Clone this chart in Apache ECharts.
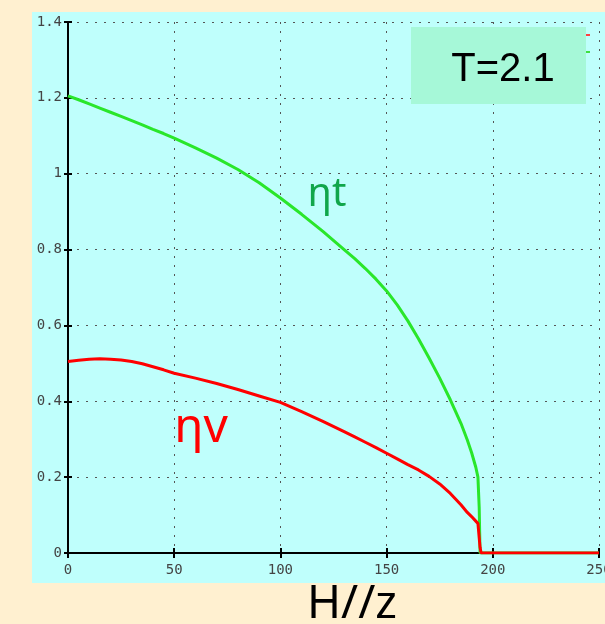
<!DOCTYPE html>
<html>
<head>
<meta charset="utf-8">
<script src="https://cdn.jsdelivr.net/npm/echarts@6/dist/echarts.min.js"></script>
<style>
  html, body { margin: 0; padding: 0; background: #FFF0D0; }
  #chart { width: 605px; height: 624px; }
</style>
</head>
<body>
<div id="chart"></div>
<script>
// field H//z
const hValues = [0, 5, 10, 15, 20, 25, 30, 35, 40, 45, 50, 60, 70, 80, 90, 100, 110, 120, 130, 135, 140, 145, 150, 155, 160, 165, 170, 175, 180, 185, 188, 190, 192, 193, 193.6, 194, 194.5, 200, 210, 220, 230, 240, 250];
// ηt
const etaT = [1.205, 1.195, 1.184, 1.173, 1.162, 1.151, 1.14, 1.129, 1.117, 1.106, 1.094, 1.068, 1.041, 1.011, 0.976, 0.936, 0.893, 0.848, 0.8, 0.776, 0.75, 0.722, 0.691, 0.654, 0.612, 0.565, 0.514, 0.461, 0.404, 0.342, 0.298, 0.265, 0.226, 0.2, 0.12, 0, 0, 0, 0, 0, 0, 0, 0];
// ηv
const etaV = [0.505, 0.508, 0.511, 0.512, 0.511, 0.509, 0.505, 0.499, 0.491, 0.483, 0.474, 0.461, 0.447, 0.431, 0.414, 0.397, 0.373, 0.347, 0.32, 0.306, 0.292, 0.278, 0.263, 0.248, 0.233, 0.219, 0.202, 0.182, 0.157, 0.127, 0.107, 0.096, 0.084, 0.078, 0.04, 0.015, 0, 0, 0, 0, 0, 0, 0];

const xTicks = [0, 50, 100, 150, 200, 250];

const toPairs = (ys) => hValues.map((h, i) => [h, ys[i]]);

const chart = echarts.init(document.getElementById('chart'));

const tickFont = { fontFamily: 'DejaVu Sans Mono', fontSize: 14, color: '#444' };

chart.setOption({
	backgroundColor: '#FFF0D0',
	animation: false,
	grid: { left: 68, top: 22, right: 6, bottom: 71, show: false, outerBoundsMode: 'none', containLabel: false },
	xAxis: [
		{
			type: 'value', min: 0, max: 250, interval: 50,
			axisLine: { show: true, onZero: false, lineStyle: { color: '#000', width: 2 } },
			axisTick: { show: true, inside: true, length: 5, lineStyle: { color: '#000', width: 2 } },
			axisLabel: Object.assign({ margin: 10, formatter: (v) => (xTicks.indexOf(v) >= 0 ? String(v) : '') }, tickFont),
			splitLine: { show: true, lineStyle: { color: '#555', type: [2, 7], width: 1 } },
		},
		{
			type: 'value', min: 0, max: 250, interval: 50, position: 'top',
			axisLine: { show: true, lineStyle: { color: '#000', width: 2 } },
			axisTick: { show: true, inside: true, length: 5, lineStyle: { color: '#000', width: 2 } },
			axisLabel: { show: false },
			splitLine: { show: false },
		},
	],
	yAxis: [
		{
			type: 'value', min: 0, max: 1.4, interval: 0.2,
			axisLine: { show: true, onZero: false, lineStyle: { color: '#000', width: 2 } },
			axisTick: { show: true, inside: true, length: 4, lineStyle: { color: '#000', width: 2 } },
			axisLabel: Object.assign({ margin: 6 }, tickFont),
			splitLine: { show: true, lineStyle: { color: '#555', type: [2, 7], width: 1 } },
		},
		{
			type: 'value', min: 0, max: 1.4, interval: 0.2, position: 'right',
			axisLine: { show: true, lineStyle: { color: '#000', width: 2 } },
			axisTick: { show: true, inside: true, length: 4, lineStyle: { color: '#000', width: 2 } },
			axisLabel: { show: false },
			splitLine: { show: false },
		},
	],
	graphic: [
		// cyan panel
		{ type: 'rect', z: -10, shape: { x: 32, y: 12, width: 573, height: 571 }, style: { fill: '#BFFFFC' } },
		// T box
		{ type: 'rect', z: 10, shape: { x: 411, y: 27, width: 175, height: 77 }, style: { fill: '#A6F8D8' } },
		{ type: 'text', z: 11, x: 503, y: 70, style: { text: 'T=2.1', font: '40px "Liberation Sans"', fill: '#000', textAlign: 'center', textVerticalAlign: 'middle' } },
		// leftover legend marks
		{ type: 'line', z: 11, shape: { x1: 586, y1: 35, x2: 590, y2: 35 }, style: { stroke: '#FF4040', lineWidth: 2 } },
		{ type: 'line', z: 11, shape: { x1: 586, y1: 52, x2: 590, y2: 52 }, style: { stroke: '#40E040', lineWidth: 2 } },
		// curve labels
		{ type: 'text', z: 11, x: 327, y: 195, style: { text: 'ηt', font: '40px "Noto Sans"', fill: '#10A64A', textAlign: 'center', textVerticalAlign: 'middle' } },
		{ type: 'text', z: 11, x: 201, y: 428, style: { text: 'ηv', font: '48px "Noto Sans"', fill: '#FF0000', textAlign: 'center', textVerticalAlign: 'middle' } },
		// axis title
		{ type: 'text', z: 11, x: 352, y: 605, style: { text: 'H//z', font: '46px "Noto Sans"', fill: '#000', textAlign: 'center', textVerticalAlign: 'middle' } },
	],
	series: [
		{
			name: 'ηt', type: 'line', xAxisIndex: 0, yAxisIndex: 0, z: 3,
			data: toPairs(etaT), showSymbol: false,
			lineStyle: { color: '#2AE62A', width: 3 },
		},
		{
			name: 'ηv', type: 'line', xAxisIndex: 0, yAxisIndex: 0, z: 4,
			data: toPairs(etaV), showSymbol: false,
			lineStyle: { color: '#FF0000', width: 3 },
		},
	],
});
</script>
</body>
</html>
